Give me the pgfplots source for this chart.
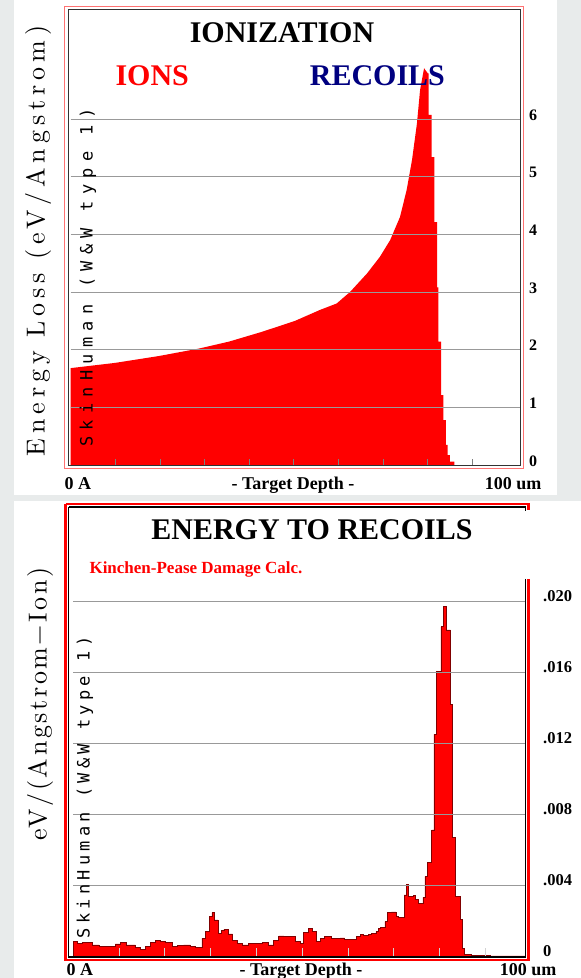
\documentclass[border=0pt]{standalone}
\usepackage{pgfplots}
\pgfplotsset{compat=1.18}
\usepackage{fontspec}
\setmainfont{Liberation Serif}
\newfontfamily\lmfont{lmroman10-regular.otf}[LetterSpace=19]
\newfontfamily\lmfontb{lmroman10-regular.otf}[LetterSpace=10]
\newfontfamily\skinfont{DejaVu Sans Mono}[LetterSpace=37]
\newfontfamily\skinfontb{DejaVu Sans Mono}[LetterSpace=25]
\definecolor{navyblue}{RGB}{0,0,128}
\definecolor{bggray}{RGB}{232,235,235}

\begin{document}
\begin{tikzpicture}[x=1pt,y=1pt]
  \path[use as bounding box] (0,0) rectangle (581,978);
  % page and panel backgrounds
  \fill[bggray] (0,0) rectangle (581,978);
  \fill[white] (14,483) rectangle (557,978);
  \fill[white] (14,0) rectangle (581,477);

  % ---------------- IONIZATION ----------------
  \begin{axis}[
      at={(70.7pt,513pt)}, anchor=south west, scale only axis,
      width=449.3pt, height=455pt,
      xmin=0, xmax=100.7, ymin=0, ymax=7.89,
      axis line style={draw=none},
      xtick={10,20,...,90}, xticklabels={}, xtick pos=bottom,
      xtick style={gray, line width=0.8pt}, major tick length=6pt,
      tick align=inside,
      ytick={0,...,6}, yticklabels={0,1,2,3,4,5,6},
      ytick pos=right, yticklabel pos=right, ytick style={draw=none},
      yticklabel style={anchor=west, inner sep=0pt, xshift=9pt, yshift=4pt,
        font=\bfseries\fontsize{16}{16}\selectfont},
      ymajorgrids, grid style={gray!80, line width=0.8pt},
      axis on top,
    ]
    \addplot[fill=red, draw=none] coordinates {
      (0,1.68) (9.9,1.77) (19.8,1.89) (28.8,2.02) (35.5,2.14)
      (42.9,2.31) (50.3,2.50) (55.9,2.69) (59.6,2.80) (62.6,3.00)
      (66.4,3.32) (69.3,3.61) (71.6,3.90) (73.8,4.30) (75.3,4.77)
      (76.5,5.29) (77.6,5.92) (78.3,6.50) (79.2,6.88) (80.05,6.79)
    } \closedcycle;
    \addplot[const plot, fill=red, draw=none] coordinates {
      (80.0,6.79) (80.2,6.07) (80.9,5.34) (81.5,4.21) (82.1,3.08)
      (82.4,2.14) (83.0,1.21) (83.5,0.78) (84.1,0.35) (84.5,0.17)
      (85.0,0.06) (86.0,0)
    } \closedcycle;
    \draw[gray, line width=0.8pt] (rel axis cs:0,0) -- (rel axis cs:1,0);
  \end{axis}
  \draw[red!55, line width=1pt] (64,971) rectangle (523,509);
  \draw[black!80, line width=1pt] (68,968) rectangle (520,512);

  \node[anchor=base, font=\bfseries\fontsize{30}{30}\selectfont] at (282,935.4) {IONIZATION};
  \node[anchor=base, red, font=\bfseries\fontsize{30}{30}\selectfont] at (152.2,892.8) {IONS};
  \node[anchor=base, navyblue, font=\bfseries\fontsize{30}{30}\selectfont] at (377.4,892.8) {RECOILS};
  \node[rotate=90, font=\lmfont\fontsize{26}{26}\selectfont] at (38,737) {Energy Loss (eV/Angstrom)};
  \node[rotate=90, font=\skinfont\fontsize{17}{17}\selectfont] at (88,700.5) {SkinHuman (W\&W type 1)};
  \node[anchor=base west, font=\bfseries\fontsize{18}{18}\selectfont] at (61,488) {0 A};
  \node[anchor=base, font=\bfseries\fontsize{18}{18}\selectfont] at (293,488) {- Target Depth -};
  \node[anchor=base east, font=\bfseries\fontsize{18}{18}\selectfont] at (545,488) {100 um};

  % ---------------- ENERGY TO RECOILS ----------------
  \begin{axis}[
      at={(73.2pt,22pt)}, anchor=south west, scale only axis,
      width=452.8pt, height=449pt,
      xmin=0, xmax=98.9, ymin=0, ymax=253,
      axis line style={draw=none},
      xtick={10,20,...,90}, xticklabels={}, xtick pos=bottom,
      xtick style={gray!35, line width=0.8pt}, major tick length=8pt,
      tick align=inside,
      ytick={0,40,...,200}, yticklabels={0,.004,.008,.012,.016,.020},
      ytick pos=right, yticklabel pos=right, ytick style={draw=none},
      yticklabel style={anchor=west, inner sep=0pt, xshift=17pt, yshift=5pt,
        font=\bfseries\fontsize{16.5}{16.5}\selectfont},
      ymajorgrids, grid style={gray!80, line width=0.8pt},
      axis on top,
    ]
    % energy to recoils, units of 1e-4 eV/(Angstrom-Ion)
    \addplot[const plot, fill=red, draw=red!50!black, line width=0.6pt] coordinates {
      (0,8.1) (0.8,7.1) (1.9,7.5) (4.1,6.2) (5.6,5.3) (9.2,6.8) (10.3,7.5)
      (11.7,6.2) (13.6,4.9) (14.7,3.8) (15.7,5.3) (16.8,7.5) (17.9,9.0)
      (19.0,8.1) (20.1,7.5) (21.6,5.6) (22.7,5.8) (24.1,6.2) (25.6,5.6)
      (26.7,4.9) (28.1,9.9) (28.8,13.7) (29.7,22.2) (30.3,24.4) (30.9,20.3)
      (31.6,12.8) (32.3,14.6) (32.9,15.2) (33.9,12.4) (34.8,9.0) (35.8,7.1)
      (36.9,6.2) (38.3,7.1) (41.2,7.5) (42.7,6.2) (43.8,9.0) (44.9,11.3)
      (46.0,10.9) (47.0,10.9) (48.5,8.1) (49.6,7.1) (50.3,13.1) (51.4,15.6)
      (52.3,13.7) (53.0,8.1) (54.0,9.9) (54.8,10.9) (56.4,9.8) (58.3,10.2)
      (59.3,9.4) (61.9,10.9) (62.8,12.2) (63.3,11.6) (64.4,12.2) (65.2,12.8)
      (66.1,13.7) (66.6,15.4) (67.1,16.0) (68.1,19.3) (68.7,24.4) (69.5,24.8)
      (70.5,22.5) (71.0,21.6) (72.3,34.4) (72.8,40.4) (73.3,33.8) (74.3,34.2)
      (74.8,31.9) (75.4,29.7) (76.4,33.1) (76.8,44.7) (77.3,52.8) (78.3,71.0)
      (78.8,124.9) (79.4,160.2) (80.3,185.5) (80.8,197.2) (81.4,183.7)
      (82.4,141.8) (82.9,66.9) (83.5,33.8) (84.5,20.7) (85.0,4.3) (85.4,1.1)
      (87.0,0.4) (91.0,0) (98.9,0)
    } \closedcycle;
    \draw[gray, line width=0.8pt] (rel axis cs:0,0) -- (rel axis cs:1,0);
  \end{axis}
  \draw[red, line width=2.2pt] (65.5,474) -- (528.5,474) -- (528.5,468);
  \draw[red, line width=2.2pt] (528.5,399) -- (528.5,18) -- (65.5,18) -- (65.5,474);
  \draw[black, line width=1.4pt] (68.5,471) -- (525.5,471) -- (525.5,467);
  \draw[black, line width=1.4pt] (525.5,399) -- (525.5,21) -- (68.5,21) -- (68.5,471);

  \node[anchor=base, font=\bfseries\fontsize{30}{30}\selectfont] at (312,438) {ENERGY TO RECOILS};
  \node[anchor=base west, red, font=\bfseries\fontsize{17}{17}\selectfont] at (86,404.7) {Kinchen-Pease Damage Calc.};
  \node[rotate=90, font=\lmfontb\fontsize{26}{26}\selectfont] at (40,274) {eV/(Angstrom−Ion)};
  \node[rotate=90, font=\skinfontb\fontsize{17}{17}\selectfont] at (85,190.5) {SkinHuman (W\&W type 1)};
  \node[anchor=base west, font=\bfseries\fontsize{18}{18}\selectfont] at (63,2) {0 A};
  \node[anchor=base, font=\bfseries\fontsize{18}{18}\selectfont] at (301,2) {- Target Depth -};
  \node[anchor=base east, font=\bfseries\fontsize{18}{18}\selectfont] at (560,2) {100 um};
\end{tikzpicture}
\end{document}
